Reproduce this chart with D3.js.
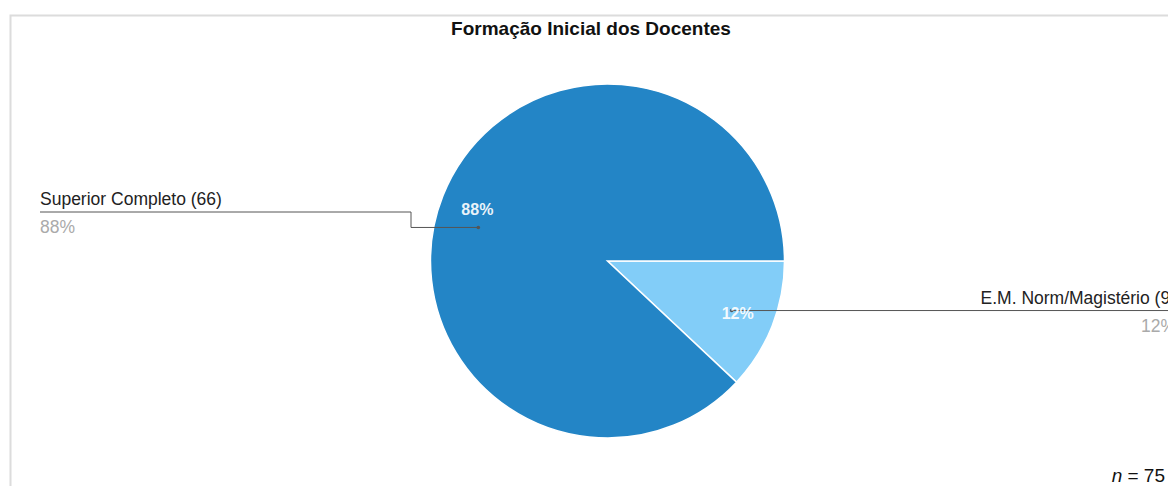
<!DOCTYPE html>
<html>
<head>
<meta charset="utf-8">
<script src="https://cdn.jsdelivr.net/npm/d3@7"></script>
<style>
  body { margin: 0; background: #fff; }
  svg { display: block; font-family: "Liberation Sans", Arial, sans-serif; }
</style>
</head>
<body>
<svg width="1168" height="486"></svg>
<script>
// data
var categories = ['E.M. Norm/Magistério', 'Superior Completo'];
var counts = [9, 66];
var percents = [12, 88];
var colors = ['#82cdf8', '#2385c6'];

var svg = d3.select('svg');
var total = d3.sum(counts);

// frame
svg.append('path')
    .attr('d', 'M10.5,486 V15.5 H1168')
    .attr('fill', 'none')
    .attr('stroke', '#dcdcdc')
    .attr('stroke-width', 2);

svg.append('text')
    .attr('x', 591).attr('y', 35)
    .attr('text-anchor', 'middle')
    .style('font-size', '19px').style('font-weight', 'bold')
    .attr('fill', '#111')
    .text('Formação Inicial dos Docentes');

var cx = 607.5, cy = 261, r = 177;

var pie = d3.pie().sort(null)
    .value(function(d){ return d; })
    .startAngle(Math.PI / 2).endAngle(Math.PI / 2 + 2 * Math.PI);

var arcs = pie(counts);
var arc = d3.arc().innerRadius(0).outerRadius(r);
var labelArc = d3.arc().innerRadius(140).outerRadius(140);

var g = svg.append('g').attr('transform', 'translate(' + cx + ',' + cy + ')');

g.selectAll('path.slice')
    .data(arcs)
    .enter()
    .append('path')
    .attr('class', 'slice')
    .attr('d', arc)
    .attr('fill', function(d, i){ return colors[i]; })
    .attr('stroke', '#fff')
    .attr('stroke-width', 1.5);

// leader lines + outside labels
arcs.forEach(function(d, i){
    var c = labelArc.centroid(d);
    var left = c[0] < 0;
    var dotX = c[0] + (left ? 1 : -6);
    var dotY = c[1] + (left ? 18 : -2);
    var lineY = left ? -49 : 50;
    var endX = left ? 40 - cx : 1168 - cx;
    var elbowX = left ? 411 - cx : dotX;

    var pts = left
        ? [[endX, lineY], [elbowX, lineY], [elbowX, dotY], [dotX, dotY]]
        : [[dotX, dotY], [endX, dotY]];
    g.append('path')
        .attr('d', d3.line()(pts))
        .attr('fill', 'none')
        .attr('stroke', '#555')
        .attr('stroke-width', 1);
    g.append('circle')
        .attr('cx', dotX).attr('cy', dotY).attr('r', 1.8)
        .attr('fill', '#555');

    g.append('text')
        .attr('x', c[0]).attr('y', c[1] + 6)
        .attr('text-anchor', 'middle')
        .attr('fill', '#fff')
        .style('font-size', '16px').style('font-weight', 'bold')
        .attr('opacity', 0.9)
        .text(percents[i] + '%');

    var tx = left ? endX : 1176 - cx;
    var anchor = left ? 'start' : 'end';
    var ly = left ? lineY : dotY;
    g.append('text')
        .attr('x', tx).attr('y', ly - 7)
        .attr('text-anchor', anchor)
        .attr('fill', '#222')
        .style('font-size', '17.5px')
        .text(categories[i] + ' (' + counts[i] + ')');
    g.append('text')
        .attr('x', tx).attr('y', ly + 21)
        .attr('text-anchor', anchor)
        .attr('fill', '#aaa')
        .style('font-size', '17.5px')
        .text(percents[i] + '%');
});

var nt = svg.append('text')
    .attr('x', 1165).attr('y', 482)
    .attr('text-anchor', 'end')
    .style('font-size', '19px')
    .attr('fill', '#111');
nt.append('tspan').style('font-style', 'italic').text('n');
nt.append('tspan').text(' = ' + total);
</script>
</body>
</html>
